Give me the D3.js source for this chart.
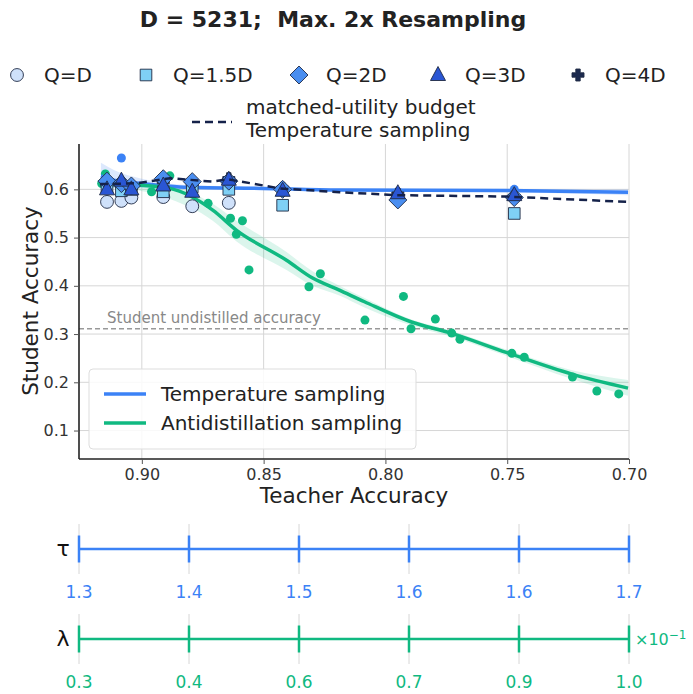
<!DOCTYPE html>
<html><head><meta charset="utf-8">
<script src="https://cdn.jsdelivr.net/npm/d3@7"></script>
<style>body{margin:0;background:#fff}svg{display:block;font-family:"DejaVu Sans",sans-serif}</style>
</head><body><svg id="c" width="693" height="694"></svg>
<script>
// ---- data ----
const clusterT = [0.9143, 0.9084, 0.9043, 0.8912, 0.8793, 0.8643, 0.8422, 0.7949, 0.7471];
const qD   = [0.574, 0.576, 0.583, 0.584, 0.565, 0.572, null, null, null];
const q15D = [0.604, 0.597, 0.600, 0.595, 0.605, 0.600, 0.567, null, 0.550];
const q2D  = [0.617, 0.612, 0.607, 0.622, 0.616, 0.617, 0.600, 0.578, 0.583];
const q3D  = [0.600, 0.618, 0.600, 0.608, 0.595, 0.620, 0.597, 0.592, 0.588];
const q4D  = [0.610, 0.612, 0.603, 0.616, 0.612, 0.622, 0.602, 0.590, 0.585];
const tempPtsT = [0.9143, 0.9084, 0.9043, 0.8912, 0.8793, 0.8643, 0.8422, 0.7949, 0.7471];
const tempPtsV = [0.610, 0.665, 0.605, 0.605, 0.600, 0.600, 0.600, 0.595, 0.600];
const antiPtsT = [0.9150,0.9165,0.8885,0.8960,0.8728,0.8636,0.8587,0.8612,0.8560,0.8267,0.8314,0.8084,0.7926,0.7895,0.7795,0.7728,0.7694,0.7481,0.7430,0.7232,0.7132,0.7042];
const antiPtsV = [0.632,0.612,0.628,0.595,0.571,0.540,0.535,0.507,0.433,0.425,0.398,0.329,0.378,0.311,0.331,0.302,0.289,0.260,0.252,0.211,0.182,0.176];
const tempFitT = [0.9168,0.9115,0.9000,0.8845,0.8504,0.8189,0.7504,0.7004];
const tempFitV = [0.628,0.619,0.612,0.605,0.602,0.5985,0.5975,0.594];
const tempFitHi = [0.655,0.640,0.622,0.610,0.605,0.601,0.600,0.600];
const tempFitLo = [0.605,0.603,0.603,0.600,0.599,0.596,0.594,0.588];
const antiFitT = [0.9168,0.9020,0.8885,0.8709,0.8611,0.8406,0.8299,0.8189,0.8086,0.7893,0.7738,0.7504,0.7234,0.7004];
const antiFitV = [0.611,0.609,0.602,0.557,0.515,0.453,0.416,0.391,0.367,0.325,0.303,0.262,0.217,0.188];
const antiFitHi = [0.616,0.614,0.608,0.570,0.535,0.470,0.430,0.400,0.375,0.330,0.308,0.268,0.225,0.205];
const antiFitLo = [0.604,0.598,0.580,0.535,0.492,0.433,0.400,0.380,0.355,0.318,0.296,0.255,0.207,0.172];
const budgetT = [0.9172,0.9020,0.8885,0.8709,0.8648,0.8434,0.8189,0.7955,0.7504,0.7004];
const budgetV = [0.611,0.6125,0.623,0.616,0.621,0.602,0.594,0.588,0.585,0.574];
const undistilled = 0.311;
const xTicks = [0.90, 0.85, 0.80, 0.75, 0.70];
const yTicks = [0.1, 0.2, 0.3, 0.4, 0.5, 0.6];
const tauLabels = ["1.3","1.4","1.5","1.6","1.6","1.7"];
const lamLabels = ["0.3","0.4","0.6","0.7","0.9","1.0"];
const qNames = ["Q=D","Q=1.5D","Q=2D","Q=3D","Q=4D"];

// ---- styles ----
const BLUE = "#3b82f6", GREEN = "#10b981", NAVY = "#15224a";
const qFill = ["#cfe1fa", "#7fd0f5", "#4a8ef0", "#2a56d4", "#1c2a4f"];
const EDGE = "#1f2a44";

const svg = d3.select("#c");
const x = d3.scaleLinear().domain([0.9258, 0.70]).range([79, 629]);
const y = d3.scaleLinear().domain([0.041, 0.694]).range([459, 144]);

// title
svg.append("text").attr("x", 333).attr("y", 27).attr("text-anchor", "middle")
  .attr("font-size", 22).attr("font-weight", "bold").attr("fill", "#222")
  .attr("xml:space", "preserve").text("D = 5231;  Max. 2x Resampling");

// grid
const g = svg.append("g");
g.selectAll(".vg").data(xTicks).join("line")
  .attr("x1", d => x(d)).attr("x2", d => x(d)).attr("y1", 144).attr("y2", 459)
  .attr("stroke", "#d6d6d6").attr("stroke-width", 1);
g.selectAll(".hg").data(yTicks).join("line")
  .attr("x1", 79).attr("x2", 629).attr("y1", d => y(d)).attr("y2", d => y(d))
  .attr("stroke", "#d6d6d6").attr("stroke-width", 1);

// undistilled line
g.append("line").attr("x1", 79).attr("x2", 629).attr("y1", y(undistilled)).attr("y2", y(undistilled))
  .attr("stroke", "#999").attr("stroke-width", 1.5).attr("stroke-dasharray", "5,3");
g.append("text").attr("x", 107).attr("y", y(undistilled) - 6).attr("font-size", 15).attr("fill", "#888")
  .text("Student undistilled accuracy");

// bands
const area = d3.area().x(d => x(d[0])).y0(d => y(d[1])).y1(d => y(d[2])).curve(d3.curveMonotoneX);
const line = d3.line().x(d => x(d[0])).y(d => y(d[1])).curve(d3.curveMonotoneX);
g.append("path").attr("d", area(tempFitT.map((t, i) => [t, tempFitLo[i], tempFitHi[i]])))
  .attr("fill", BLUE).attr("fill-opacity", 0.18);
g.append("path").attr("d", area(antiFitT.map((t, i) => [t, antiFitLo[i], antiFitHi[i]])))
  .attr("fill", GREEN).attr("fill-opacity", 0.15);

// scatter points
g.selectAll(".tp").data(tempPtsT.map((t, i) => [t, tempPtsV[i]])).join("circle")
  .attr("cx", d => x(d[0])).attr("cy", d => y(d[1])).attr("r", 4.5).attr("fill", BLUE);
g.selectAll(".ap").data(antiPtsT.map((t, i) => [t, antiPtsV[i]])).join("circle")
  .attr("cx", d => x(d[0])).attr("cy", d => y(d[1])).attr("r", 4.5).attr("fill", GREEN);

// fit lines
g.append("path").attr("d", line(tempFitT.map((t, i) => [t, tempFitV[i]])))
  .attr("fill", "none").attr("stroke", BLUE).attr("stroke-width", 3.5);
g.append("path").attr("d", line(antiFitT.map((t, i) => [t, antiFitV[i]])))
  .attr("fill", "none").attr("stroke", GREEN).attr("stroke-width", 3.5);

// markers
function markerPath(k) {
  if (k === 0) return d3.symbol(d3.symbolCircle, 130)();
  if (k === 1) return d3.symbol(d3.symbolSquare, 135)();
  if (k === 2) return "M0,-9L9,0L0,9L-9,0Z";
  if (k === 3) return "M0,-8.5L7.5,5.5L-7.5,5.5Z";
  return "M-2.2,-6H2.2V-2.2H6V2.2H2.2V6H-2.2V2.2H-6V-2.2H-2.2Z";
}
const qSeries = [qD, q15D, q2D, q3D, q4D];
const drawOrder = [4, 0, 1, 2, 3];
drawOrder.forEach(k => {
  const arr = qSeries[k];
  g.append("g").selectAll("path").data(clusterT.map((t, i) => [t, arr[i]]).filter(d => d[1] !== null))
    .join("path").attr("d", markerPath(k))
    .attr("transform", d => `translate(${x(d[0])},${y(d[1])})`)
    .attr("fill", qFill[k]).attr("stroke", EDGE).attr("stroke-width", 0.9);
});

// budget dashed line
g.append("path").attr("d", d3.line().x(d => x(d[0])).y(d => y(d[1]))(budgetT.map((t, i) => [t, budgetV[i]])))
  .attr("fill", "none").attr("stroke", NAVY).attr("stroke-width", 2.5).attr("stroke-dasharray", "8,5");

// axes
const xAxis = svg.append("g").attr("transform", "translate(0,459)")
  .call(d3.axisBottom(x).tickValues(xTicks).tickFormat(d3.format(".2f")).tickSize(5).tickPadding(5));
const yAxis = svg.append("g").attr("transform", "translate(79,0)")
  .call(d3.axisLeft(y).tickValues(yTicks).tickFormat(d3.format(".1f")).tickSize(5).tickPadding(5));
[xAxis, yAxis].forEach(a => {
  a.select(".domain").attr("stroke", "#222").attr("stroke-width", 1.6);
  a.selectAll(".tick line").attr("stroke", "#555");
  a.selectAll("text").attr("font-size", 16).attr("fill", "#333").attr("font-family", "DejaVu Sans");
});
xAxis.select(".domain").attr("d", "M79,0H629");
yAxis.select(".domain").attr("d", "M0,144V459");

svg.append("text").attr("x", 354).attr("y", 503).attr("text-anchor", "middle").attr("font-size", 21.5)
  .attr("fill", "#222").text("Teacher Accuracy");
svg.append("text").attr("transform", "translate(38,301) rotate(-90)").attr("text-anchor", "middle")
  .attr("font-size", 21.5).attr("fill", "#222").text("Student Accuracy");

// legend box (fits)
const lg = svg.append("g");
lg.append("rect").attr("x", 89).attr("y", 369).attr("width", 327).attr("height", 80).attr("rx", 4)
  .attr("fill", "#fff").attr("fill-opacity", 0.85).attr("stroke", "#ddd");
[["Temperature sampling", BLUE, 394], ["Antidistillation sampling", GREEN, 423]].forEach(([t, c, yy]) => {
  lg.append("line").attr("x1", 104).attr("x2", 146).attr("y1", yy).attr("y2", yy).attr("stroke", c).attr("stroke-width", 3.5);
  lg.append("text").attr("x", 161).attr("y", yy + 7).attr("font-size", 20).attr("fill", "#222").text(t);
});

// top legend
const legX = [17, 146, 299, 438, 578];
qNames.forEach((n, k) => {
  svg.append("path").attr("d", markerPath(k)).attr("transform", `translate(${legX[k]},75)`)
    .attr("fill", qFill[k]).attr("stroke", EDGE).attr("stroke-width", 0.9);
  svg.append("text").attr("x", legX[k] + 27).attr("y", 82).attr("font-size", 20).attr("fill", "#222").text(n);
});
svg.append("line").attr("x1", 192).attr("x2", 232).attr("y1", 122).attr("y2", 122)
  .attr("stroke", NAVY).attr("stroke-width", 2.5).attr("stroke-dasharray", "8,5");
svg.append("text").attr("x", 246).attr("y", 114).attr("font-size", 20).attr("fill", "#222").text("matched-utility budget");
svg.append("text").attr("x", 246).attr("y", 137).attr("font-size", 20).attr("fill", "#222").text("Temperature sampling");

// parameter axes
const px = d3.scalePoint().domain(d3.range(tauLabels.length)).range([79, 629]);
function paramAxis(labels, color, cy, sym, extra) {
  const pg = svg.append("g");
  pg.selectAll(".pg").data(px.domain()).join("line")
    .attr("x1", d => px(d)).attr("x2", d => px(d)).attr("y1", cy - 25).attr("y2", cy + 25)
    .attr("stroke", "#d6d6d6").attr("stroke-width", 1);
  pg.append("line").attr("x1", 79).attr("x2", 629).attr("y1", cy).attr("y2", cy)
    .attr("stroke", color).attr("stroke-width", 2.5);
  pg.selectAll(".pt").data(px.domain()).join("line")
    .attr("x1", d => px(d)).attr("x2", d => px(d)).attr("y1", cy - 13.5).attr("y2", cy + 13.5)
    .attr("stroke", color).attr("stroke-width", 2.5);
  pg.selectAll(".pl").data(px.domain()).join("text")
    .attr("x", d => px(d)).attr("y", cy + 49).attr("text-anchor", "middle")
    .attr("font-size", 17).attr("fill", color).text(d => labels[d]);
  pg.append("text").attr("x", 63).attr("y", cy + 7).attr("text-anchor", "middle")
    .attr("font-size", 22).attr("fill", "#111").text(sym);
  if (extra) {
    const t = pg.append("text").attr("x", 635).attr("y", cy + 6).attr("font-size", 16).attr("fill", color);
    t.append("tspan").text("×10");
    t.append("tspan").attr("dy", -6).attr("font-size", 12).text("−1");
  }
}
paramAxis(tauLabels, BLUE, 549, "τ", false);
paramAxis(lamLabels, GREEN, 639, "λ", true);
</script></body></html>
